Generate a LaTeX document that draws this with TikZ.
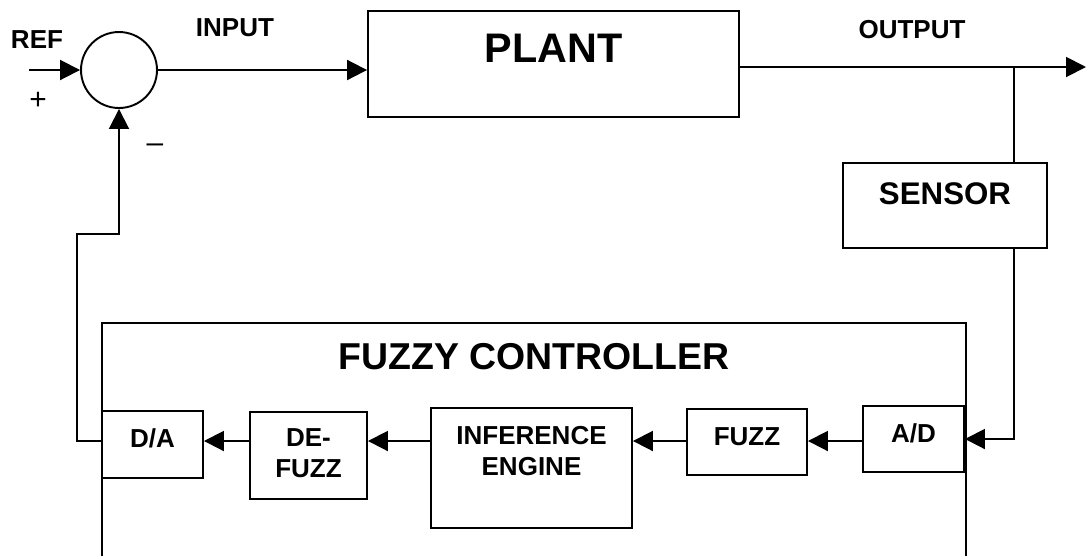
\documentclass[tikz,border=0pt]{standalone}
\usepackage{fontspec}
\setmainfont{Liberation Sans}
\usetikzlibrary{arrows.meta}
\newcommand{\lblfont}{\fontsize{14.8}{17.6}\selectfont\bfseries}

\begin{document}
\begin{tikzpicture}[
    x=0.02cm, y=-0.02cm,
    box/.style={draw, line width=1.1pt, inner sep=0pt, align=center, font=\lblfont},
    tag/.style={font=\lblfont},
    wire/.style={line width=1.1pt},
    arr/.style={-{Triangle[length=0.4cm, width=0.4cm]}, line width=1.1pt}
]
\useasboundingbox (0,0) rectangle (1086,556);

% loop
\node[draw, circle, line width=1.1pt, minimum size=1.52cm, inner sep=0pt] (sum) at (119,70) {};
\node[box, minimum width=7.42cm, text height=1.02cm, text depth=1.1cm, font=\fontsize{23.5}{28}\selectfont\bfseries] (plant) at (553.5,64) {PLANT};
\node[box, minimum width=4.08cm, text height=0.82cm, text depth=0.88cm, font=\fontsize{17.8}{21}\selectfont\bfseries] (sensor) at (945,205.5) {SENSOR};

\node[tag] (ref) at (37,40) {REF};
\node[tag] (input) at (235,28) {INPUT};
\node[tag] (output) at (912,30) {OUTPUT};
\node[font=\fontsize{17}{20}\selectfont] (plus) at (38,101) {+};
\node[font=\fontsize{17}{20}\selectfont] (minus) at (155,148) {–};

% controller
\draw[wire] (102,556) |- (966,323) -- (966,556);
\node[font=\fontsize{21.3}{25}\selectfont\bfseries] (title) at (534,356.5) {FUZZY CONTROLLER};
\node[box, minimum width=2.02cm, text height=0.72cm, text depth=0.62cm] (da) at (152.5,444.5) {D/A};
\node[box, minimum width=2.34cm, text height=1.3cm, text depth=0.44cm] (defuzz) at (308.5,455.5) {DE-\\FUZZ};
\node[box, minimum width=4.02cm, text height=1.34cm, text depth=1.06cm] (infer) at (531.5,468) {INFERENCE\\ENGINE};
\node[box, minimum width=2.4cm, text height=0.72cm, text depth=0.6cm] (fuzz) at (747,442) {FUZZ};
\node[box, minimum width=2.02cm, text height=0.72cm, text depth=0.6cm] (ad) at (913.5,439) {A/D};

\coordinate (refin) at (29,70);
\coordinate (outend) at (1086,67);
\coordinate (tap) at (1014,67);
\coordinate (lvl) at (0,441);
\coordinate (fbl) at (77,234);

\draw[arr] (refin) -- (sum.west);
\draw[arr] (sum.east) -- (sum.east -| plant.west);
\draw[arr] (plant.east |- outend) -- (outend);
\draw[wire] (tap) -- (tap |- sensor.north);
\draw[arr] (tap |- sensor.south) |- (ad.east);
\draw[arr] (ad.west |- lvl) -- (fuzz.east |- lvl);
\draw[arr] (fuzz.west |- lvl) -- (infer.east |- lvl);
\draw[arr] (infer.west |- lvl) -- (defuzz.east |- lvl);
\draw[arr] (defuzz.west |- lvl) -- (da.east |- lvl);
\draw[arr] (da.west |- lvl) -| (fbl) -- (fbl -| sum.south) -- (sum.south);
\end{tikzpicture}
\end{document}
